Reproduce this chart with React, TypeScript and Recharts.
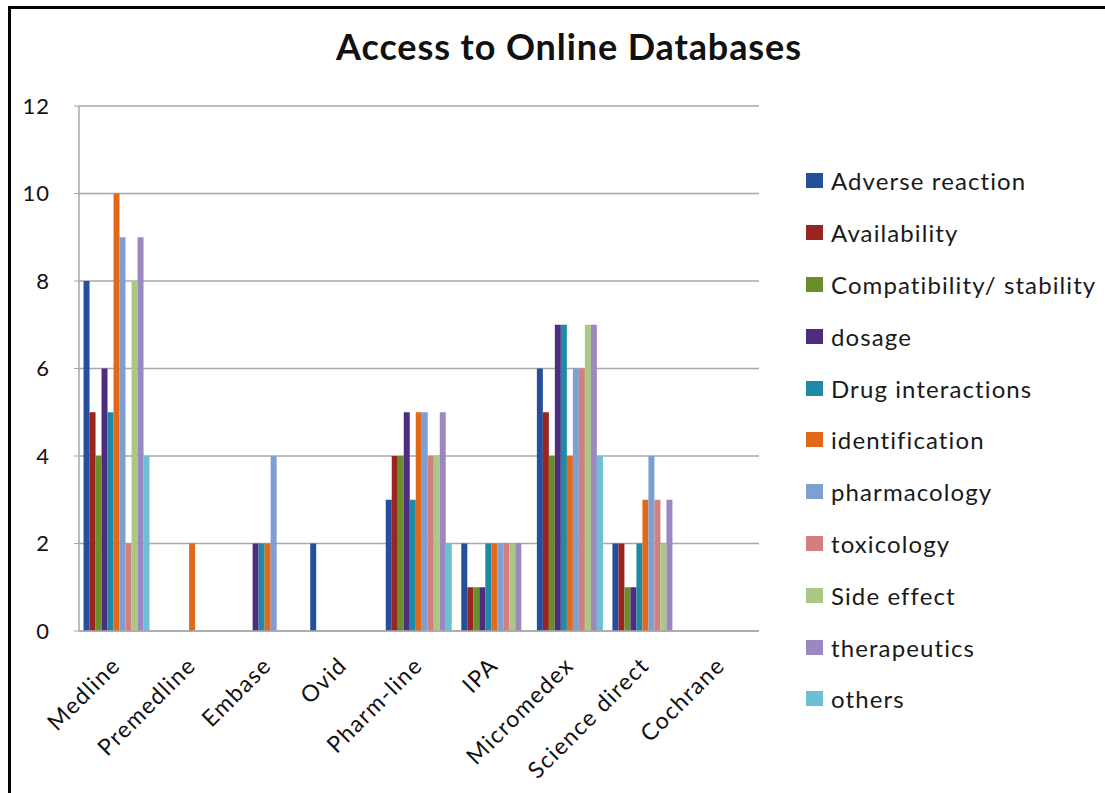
import { BarChart, Bar, XAxis, YAxis, CartesianGrid } from 'recharts';

const databases = ['Medline', 'Premedline', 'Embase', 'Ovid', 'Pharm-line', 'IPA', 'Micromedex', 'Science direct', 'Cochrane'];

const adverseReaction = [8, 0, 0, 2, 3, 2, 6, 2, 0];
const availability = [5, 0, 0, 0, 4, 1, 5, 2, 0];
const compatibility = [4, 0, 0, 0, 4, 1, 4, 1, 0];
const dosage = [6, 0, 2, 0, 5, 1, 7, 1, 0];
const drugInteractions = [5, 0, 2, 0, 3, 2, 7, 2, 0];
const identification = [10, 2, 2, 0, 5, 2, 4, 3, 0];
const pharmacology = [9, 0, 4, 0, 5, 2, 6, 4, 0];
const toxicology = [2, 0, 0, 0, 4, 2, 6, 3, 0];
const sideEffect = [8, 0, 0, 0, 4, 2, 7, 2, 0];
const therapeutics = [9, 0, 0, 0, 5, 2, 7, 3, 0];
const others = [4, 0, 0, 0, 2, 0, 4, 0, 0];

const yTicks = [0, 2, 4, 6, 8, 10, 12];

const series = [
  { key: 'adverse', name: 'Adverse reaction', values: adverseReaction, color: '#254f9a' },
  { key: 'availability', name: 'Availability', values: availability, color: '#9a2422' },
  { key: 'compat', name: 'Compatibility/ stability', values: compatibility, color: '#6a8f2a' },
  { key: 'dosage', name: 'dosage', values: dosage, color: '#4e2d80' },
  { key: 'drug', name: 'Drug interactions', values: drugInteractions, color: '#1f8aa5' },
  { key: 'ident', name: 'identification', values: identification, color: '#e06a1a' },
  { key: 'pharm', name: 'pharmacology', values: pharmacology, color: '#7e9fd2' },
  { key: 'tox', name: 'toxicology', values: toxicology, color: '#d27f7f' },
  { key: 'side', name: 'Side effect', values: sideEffect, color: '#aac883' },
  { key: 'thera', name: 'therapeutics', values: therapeutics, color: '#9c88c0' },
  { key: 'others', name: 'others', values: others, color: '#6bbfd6' },
];

const data = databases.map((db, i) => {
  const row: any = { name: db };
  series.forEach(s => {
    row[s.key] = s.values[i];
  });
  return row;
});

const FONT = 'Lato, "Open Sans", sans-serif';

const XTick = ({ x, y, payload }: any) => (
  <text
    x={x + 5}
    y={y + 28}
    transform={`rotate(-45, ${x + 5}, ${y + 28})`}
    textAnchor="end"
    fontSize={23}
    letterSpacing={1.4}
    fontFamily={FONT}
    fill="#111"
  >
    {payload.value}
  </text>
);

const LegendBox = () => (
  <div style={{ fontFamily: FONT }}>
    {series.map(s => (
      <div
        key={s.key}
        style={{ display: 'flex', alignItems: 'center', height: 51.8, whiteSpace: 'nowrap' }}
      >
        <span
          style={{ width: 17, height: 15, flexShrink: 0, background: s.color, marginRight: 8, display: 'inline-block' }}
        />
        <span style={{ fontSize: 24, letterSpacing: 1.1, color: '#1a1a1a' }}>{s.name}</span>
      </div>
    ))}
  </div>
);

export default function App() {
  return (
    <div
      style={{
        position: 'absolute',
        left: 0,
        top: 0,
        width: 1105,
        height: 793,
        overflow: 'hidden',
        background: '#fff',
      }}
    >
      <div style={{ position: 'absolute', left: 8, top: 6, width: 1097, height: 3, background: '#000' }} />
      <div style={{ position: 'absolute', left: 8, top: 6, width: 3, height: 787, background: '#000' }} />
      <div
        style={{
          position: 'absolute',
          left: 0,
          top: 24,
          width: 1138,
          textAlign: 'center',
          fontFamily: FONT,
          fontWeight: 'bold',
          fontSize: 36,
          letterSpacing: 0.9,
          color: '#111',
        }}
      >
        Access to Online Databases
      </div>
      <div style={{ position: 'absolute', left: 806, top: 155, width: 299 }}>
        <LegendBox />
      </div>
      <div style={{ position: 'absolute', left: 0, top: 0 }}>
        <BarChart
          width={1105}
          height={793}
          data={data}
          margin={{ top: 106, right: 346, left: 0, bottom: 0 }}
          barCategoryGap="6%"
          barGap={0}
        >
          <CartesianGrid vertical={false} stroke="#a8a8a8" strokeWidth={1.5} />
          <XAxis
            dataKey="name"
            height={162}
            interval={0}
            tick={<XTick />}
            tickLine={false}
            axisLine={{ stroke: '#a8a8a8', strokeWidth: 1.5 }}
          />
          <YAxis
            width={79}
            domain={[0, 12]}
            ticks={yTicks}
            interval={0}
            tickSize={5}
            tickMargin={24}
            tickLine={{ stroke: '#a8a8a8' }}
            axisLine={{ stroke: '#a8a8a8', strokeWidth: 1.5 }}
            tick={{ fontSize: 22, fill: '#111', fontFamily: FONT, letterSpacing: 1 }}
          />
          {series.map(s => (
            <Bar key={s.key} dataKey={s.key} name={s.name} fill={s.color} isAnimationActive={false} />
          ))}
        </BarChart>
      </div>
    </div>
  );
}
